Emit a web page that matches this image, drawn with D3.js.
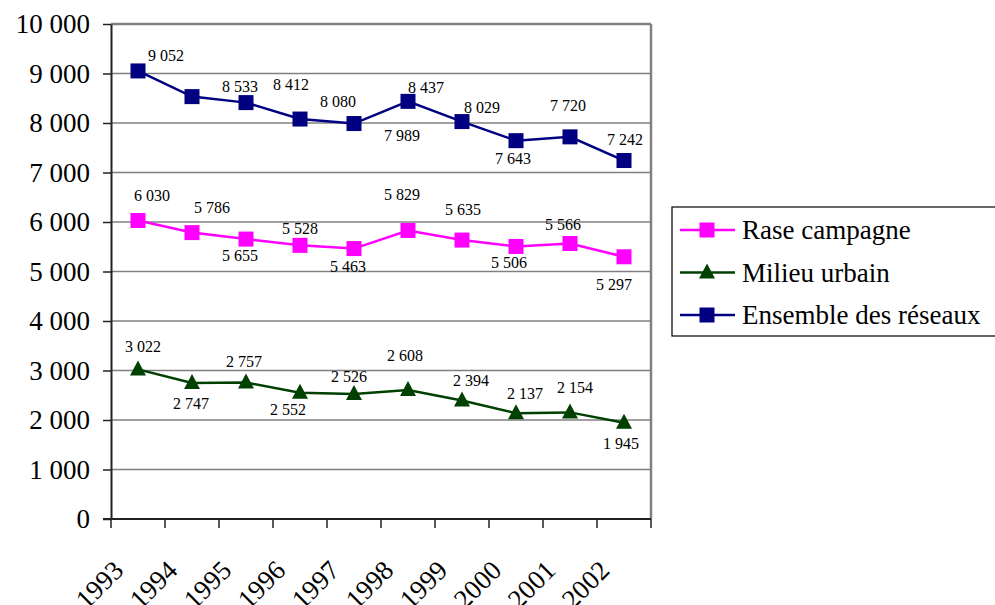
<!DOCTYPE html>
<html>
  <head>
    <meta charset="utf-8">
    <title>Reseaux</title>
    <script src="https://d3js.org/d3.v7.min.js"></script>
    <style>
      svg text { font-family: "Liberation Serif", "Times New Roman", Tinos !important; }
    </style>
  </head>
  <body style="margin:0">
    <script>
      let years = ['1993', '1994', '1995', '1996', '1997', '1998', '1999', '2000', '2001', '2002'];
      let rase = [6030, 5786, 5655, 5528, 5463, 5829, 5635, 5506, 5566, 5297];
      let urbain = [3022, 2747, 2757, 2552, 2526, 2608, 2394, 2137, 2154, 1945];
      let ensemble = [9052, 8533, 8412, 8080, 7989, 8437, 8029, 7643, 7720, 7242];
      let yTicks = [0, 1000, 2000, 3000, 4000, 5000, 6000, 7000, 8000, 9000, 10000];

      // label nudges (dx, dy from the point to the label baseline centre), as in the original
      let nudgeEnsemble = [[28, -10], [48, -5], [45, -13], [38, -12], [48, 17], [18, -8], [20, -9], [-3, 23], [-2, -26], [1, -16]];
      let nudgeRase = [[14, -20], [20, -20], [-6, 22], [0, -11], [-6, 23], [-6, -30], [1, -25], [-7, 22], [-7, -13], [-10, 33]];
      let nudgeUrbain = [[5, -17], [-1, 26], [-2, -16], [-12, 22], [-5, -12], [-3, -29], [9, -14], [9, -14], [5, -19], [-3, 26]];

      let series = [
        {name: 'Rase campagne', values: rase, color: '#ff00ff', shape: 'square', nudge: nudgeRase},
        {name: 'Milieu urbain', values: urbain, color: '#004000', shape: 'triangle', nudge: nudgeUrbain},
        {name: 'Ensemble des réseaux', values: ensemble, color: '#000080', shape: 'square', nudge: nudgeEnsemble}
      ];

      let width = 995, height = 605;
      let plotLeft = 111, plotRight = 651, plotTop = 24, plotBottom = 519;
      let fontName = 'Liberation Serif';

      let fmt = v => d3.format(',')(v).replace(/,/g, ' ');

      let svg = d3.select('body').append('svg')
                  .attr('width', width)
                  .attr('height', height)
                  .attr('font-family', fontName);

      let xScale = d3.scaleBand().domain(years).range([plotLeft, plotRight]);
      let yScale = d3.scaleLinear().domain([0, 10000]).range([plotBottom, plotTop]);
      let cx = i => xScale(years[i]) + xScale.bandwidth() / 2;

      // grid
      svg.append('g').selectAll('line').data(yTicks.slice(1)).enter().append('line')
         .attr('x1', plotLeft).attr('x2', plotRight)
         .attr('y1', d => yScale(d)).attr('y2', d => yScale(d))
         .attr('stroke', '#808080').attr('stroke-width', 1.5);
      svg.append('line').attr('x1', plotRight).attr('x2', plotRight)
         .attr('y1', plotTop).attr('y2', plotBottom)
         .attr('stroke', '#808080').attr('stroke-width', 2.5);
      svg.append('line').attr('x1', plotLeft).attr('x2', plotRight)
         .attr('y1', plotTop).attr('y2', plotTop)
         .attr('stroke', '#808080').attr('stroke-width', 2.5);

      // y axis
      let yAxis = d3.axisLeft(yScale).tickValues(yTicks).tickFormat(fmt)
                    .tickSize(8).tickPadding(13).tickSizeOuter(0);
      let gy = svg.append('g').attr('transform', `translate(${plotLeft}, 0)`).call(yAxis);
      gy.attr('font-family', fontName).attr('font-size', 27);
      gy.select('.domain').attr('stroke', '#222').attr('stroke-width', 2);
      gy.selectAll('.tick line').attr('stroke', '#222').attr('stroke-width', 1.5);
      gy.selectAll('.tick text')
        .attr('font-family', fontName).attr('font-size', 27).attr('fill', '#000');

      // x axis
      let gx = svg.append('g');
      gx.append('line').attr('x1', plotLeft - 8).attr('x2', plotRight)
        .attr('y1', plotBottom).attr('y2', plotBottom)
        .attr('stroke', '#222').attr('stroke-width', 2);
      let edges = years.map(d => xScale(d)).concat([plotRight]);
      gx.selectAll('line.tk').data(edges).enter().append('line')
        .attr('class', 'tk')
        .attr('x1', d => d).attr('x2', d => d)
        .attr('y1', plotBottom).attr('y2', plotBottom + 9)
        .attr('stroke', '#222').attr('stroke-width', 1.5);
      gx.selectAll('text').data(years).enter().append('text')
        .attr('transform', (d, i) => `translate(${cx(i) - 13}, 572) rotate(-45)`)
        .attr('text-anchor', 'end')
        .attr('font-family', fontName)
        .attr('font-size', 27)
        .text(d => d);

      let line = d3.line()
                   .x((d, i) => cx(i))
                   .y(d => yScale(d));

      function drawMarker(g, shape, color, x, y) {
        if (shape === 'square') {
          g.append('rect').attr('x', x - 7.5).attr('y', y - 7.5)
           .attr('width', 15).attr('height', 15)
           .attr('fill', color);
        } else {
          g.append('path').attr('d', 'M0,-9L8,6L-8,6Z')
           .attr('transform', `translate(${x}, ${y})`)
           .attr('fill', color);
        }
      }

      series.forEach(s => {
        let g = svg.append('g');
        g.append('path').attr('d', line(s.values))
         .attr('fill', 'none').attr('stroke', s.color).attr('stroke-width', 2.5);
        s.values.forEach((v, i) => drawMarker(g, s.shape, s.color, cx(i), yScale(v)));
        g.selectAll('text').data(s.values).enter().append('text')
         .attr('x', (d, i) => cx(i) + s.nudge[i][0])
         .attr('y', (d, i) => yScale(d) + s.nudge[i][1])
         .attr('text-anchor', 'middle')
         .attr('font-family', fontName)
         .attr('font-size', 16)
         .text(d => fmt(d));
      });

      // legend
      let lg = svg.append('g');
      lg.append('rect').attr('x', 672).attr('y', 207)
        .attr('width', 340).attr('height', 129)
        .attr('fill', '#fff').attr('stroke', '#000').attr('stroke-width', 1.2);
      series.forEach((s, i) => {
        let y = 230 + i * 42.5;
        lg.append('line').attr('x1', 680).attr('x2', 735)
          .attr('y1', y).attr('y2', y)
          .attr('stroke', s.color).attr('stroke-width', 2.5);
        drawMarker(lg, s.shape, s.color, 707, y);
        lg.append('text').attr('x', 742).attr('y', y + 9)
          .attr('font-family', fontName)
          .attr('font-size', 27)
          .text(s.name);
      });
    </script>
  </body>
</html>
